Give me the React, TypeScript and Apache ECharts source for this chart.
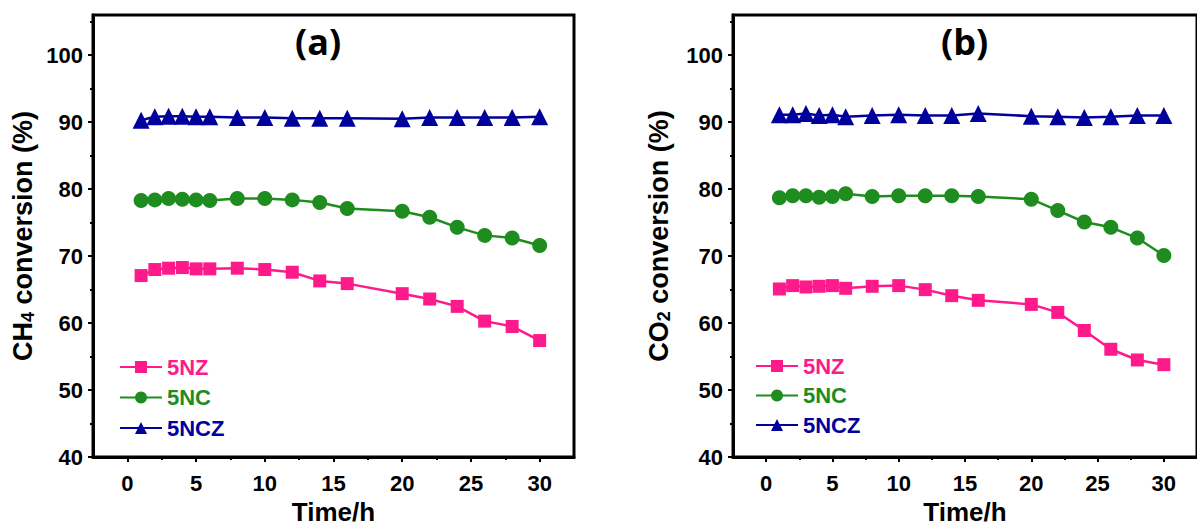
import React, { useEffect, useRef } from "react";
import * as echarts from "echarts";

const hours = [1, 2, 3, 4, 5, 6, 8, 10, 12, 14, 16, 20, 22, 24, 26, 28, 30];

// Panel (a): CH4 conversion (%)
const ch4_5NZ = [67.1, 68.0, 68.2, 68.3, 68.1, 68.1, 68.2, 68.0, 67.6, 66.3, 65.9, 64.4, 63.6, 62.5, 60.3, 59.5, 57.4];
const ch4_5NC = [78.3, 78.4, 78.6, 78.5, 78.4, 78.3, 78.6, 78.6, 78.4, 78.0, 77.1, 76.7, 75.8, 74.3, 73.1, 72.7, 71.6];
const ch4_5NCZ = [90.3, 90.8, 90.9, 90.9, 90.8, 90.8, 90.7, 90.7, 90.6, 90.6, 90.6, 90.5, 90.7, 90.7, 90.7, 90.7, 90.8];

// Panel (b): CO2 conversion (%)
const co2_5NZ = [65.1, 65.6, 65.4, 65.5, 65.6, 65.2, 65.5, 65.6, 65.0, 64.1, 63.4, 62.8, 61.6, 58.9, 56.1, 54.5, 53.8];
const co2_5NC = [78.7, 79.0, 79.0, 78.8, 78.9, 79.3, 78.9, 79.0, 79.0, 79.0, 78.9, 78.5, 76.8, 75.1, 74.3, 72.7, 70.1];
const co2_5NCZ = [91.1, 91.1, 91.3, 91.0, 91.1, 90.8, 91.0, 91.1, 91.0, 91.0, 91.3, 90.9, 90.8, 90.7, 90.8, 91.0, 91.0];

const xMajor = [0, 5, 10, 15, 20, 25, 30];
const xMinor = [2.5, 7.5, 12.5, 17.5, 22.5, 27.5];
const yMajor = [40, 50, 60, 70, 80, 90, 100];
const yMinor = [45, 55, 65, 75, 85, 95, 105];

const seriesNames = ["5NZ", "5NC", "5NCZ"];
const colors = ["#FF1A8C", "#1E8C1E", "#00009C"];
const symbols = ["rect", "circle", "triangle"];
const symbolSizes = [13, 15, 17];

const FONT = "'Liberation Sans', Arial, sans-serif";

export default function App() {
  const ref = useRef<HTMLDivElement>(null);

  useEffect(() => {
    if (!ref.current) return;
    const chart = echarts.init(ref.current, null, { renderer: "svg" });

    const grids = [
      { left: 93, top: 15, width: 481, height: 448 },
      { left: 733, top: 15, width: 474, height: 446 },
    ];

    const xAxes: any[] = [];
    const yAxes: any[] = [];
    const yNames = [
      "{a|CH}{s|4}{a| conversion (%)}",
      "{a|CO}{s|2}{a| conversion (%)}",
    ];
    const yNameGaps = [56, 60];

    for (let g = 0; g < 2; g++) {
      xAxes.push({
        type: "value",
        gridIndex: g,
        min: -2.5,
        max: 32.5,
        name: "Time/h",
        nameLocation: "middle",
        nameGap: 41,
        nameTextStyle: { fontFamily: FONT, fontWeight: "bold", fontSize: 26, color: "#000" },
        axisLine: { show: true, onZero: false, lineStyle: { color: "#000", width: 3 } },
        axisTick: { show: true, inside: false, length: 5, customValues: xMajor, lineStyle: { color: "#000", width: 2 } },
        axisLabel: { show: true, customValues: xMajor, margin: 15, fontFamily: FONT, fontWeight: "bold", fontSize: 22, color: "#000" },
        splitLine: { show: false },
      });
      xAxes.push({
        type: "value",
        gridIndex: g,
        min: -2.5,
        max: 32.5,
        position: "bottom",
        axisLine: { show: false, onZero: false },
        axisTick: { show: true, inside: false, length: 3, customValues: xMinor, lineStyle: { color: "#000", width: 2 } },
        axisLabel: { show: false },
        splitLine: { show: false },
      });
      yAxes.push({
        type: "value",
        gridIndex: g,
        min: 40,
        max: 106,
        name: yNames[g],
        nameLocation: "middle",
        nameRotate: 90,
        nameGap: yNameGaps[g],
        nameTextStyle: {
          rich: {
            a: { fontFamily: FONT, fontWeight: "bold", fontSize: 27, color: "#000" },
            s: { fontFamily: FONT, fontWeight: "bold", fontSize: 18, color: "#000", padding: [11, 0, 0, 0] },
          },
        },
        axisLine: { show: true, onZero: false, lineStyle: { color: "#000", width: 3 } },
        axisTick: { show: true, inside: false, length: 5, customValues: yMajor, lineStyle: { color: "#000", width: 2 } },
        axisLabel: { show: true, customValues: yMajor, margin: 10, fontFamily: FONT, fontWeight: "bold", fontSize: 22, color: "#000" },
        splitLine: { show: false },
      });
      yAxes.push({
        type: "value",
        gridIndex: g,
        min: 40,
        max: 106,
        position: "left",
        axisLine: { show: false, onZero: false },
        axisTick: { show: true, inside: false, length: 3, customValues: yMinor, lineStyle: { color: "#000", width: 2 } },
        axisLabel: { show: false },
        splitLine: { show: false },
      });
    }

    const panelData = [
      [ch4_5NZ, ch4_5NC, ch4_5NCZ],
      [co2_5NZ, co2_5NC, co2_5NCZ],
    ];

    const series: any[] = [];
    for (let g = 0; g < 2; g++) {
      for (let s = 0; s < 3; s++) {
        series.push({
          type: "line",
          name: seriesNames[s],
          xAxisIndex: g * 2,
          yAxisIndex: g * 2,
          data: hours.map((h, i) => [h, panelData[g][s][i]]),
          symbol: symbols[s],
          symbolSize: symbolSizes[s],
          lineStyle: { color: colors[s], width: 2.5 },
          itemStyle: { color: colors[s] },
          z: 3 + s,
        });
      }
    }

    const legendPos = [
      { left: 114, top: 351, itemGap: 8.5 },
      { left: 750, top: 350, itemGap: 7.5 },
    ];
    const legends = legendPos.map((p) => ({
      orient: "vertical",
      left: p.left,
      top: p.top,
      itemWidth: 42,
      itemHeight: 15,
      itemGap: p.itemGap,
      selectedMode: false,
      data: seriesNames.map((n, i) => ({
        name: n,
        textStyle: { color: colors[i], fontFamily: FONT, fontWeight: "bold", fontSize: 22, lineHeight: 22 },
      })),
    }));

    chart.setOption({
      animation: false,
      backgroundColor: "#fff",
      grid: grids.map((g) => ({ ...g, show: true, borderColor: "#000", borderWidth: 3, backgroundColor: "transparent" })),
      xAxis: xAxes,
      yAxis: yAxes,
      legend: legends,
      series,
      graphic: [
        {
          type: "text",
          left: 295,
          top: 23,
          style: { text: "(a)", fontFamily: "'Open Sans', sans-serif", fontWeight: "bold", fontSize: 36, fill: "#000" },
        },
        {
          type: "text",
          left: 941,
          top: 23,
          style: { text: "(b)", fontFamily: "'Open Sans', sans-serif", fontWeight: "bold", fontSize: 36, fill: "#000" },
        },
      ],
    });

    return () => chart.dispose();
  }, []);

  return (
    <div
      ref={ref}
      style={{ position: "fixed", left: 0, top: 0, width: 1197, height: 530, background: "#fff" }}
    />
  );
}
